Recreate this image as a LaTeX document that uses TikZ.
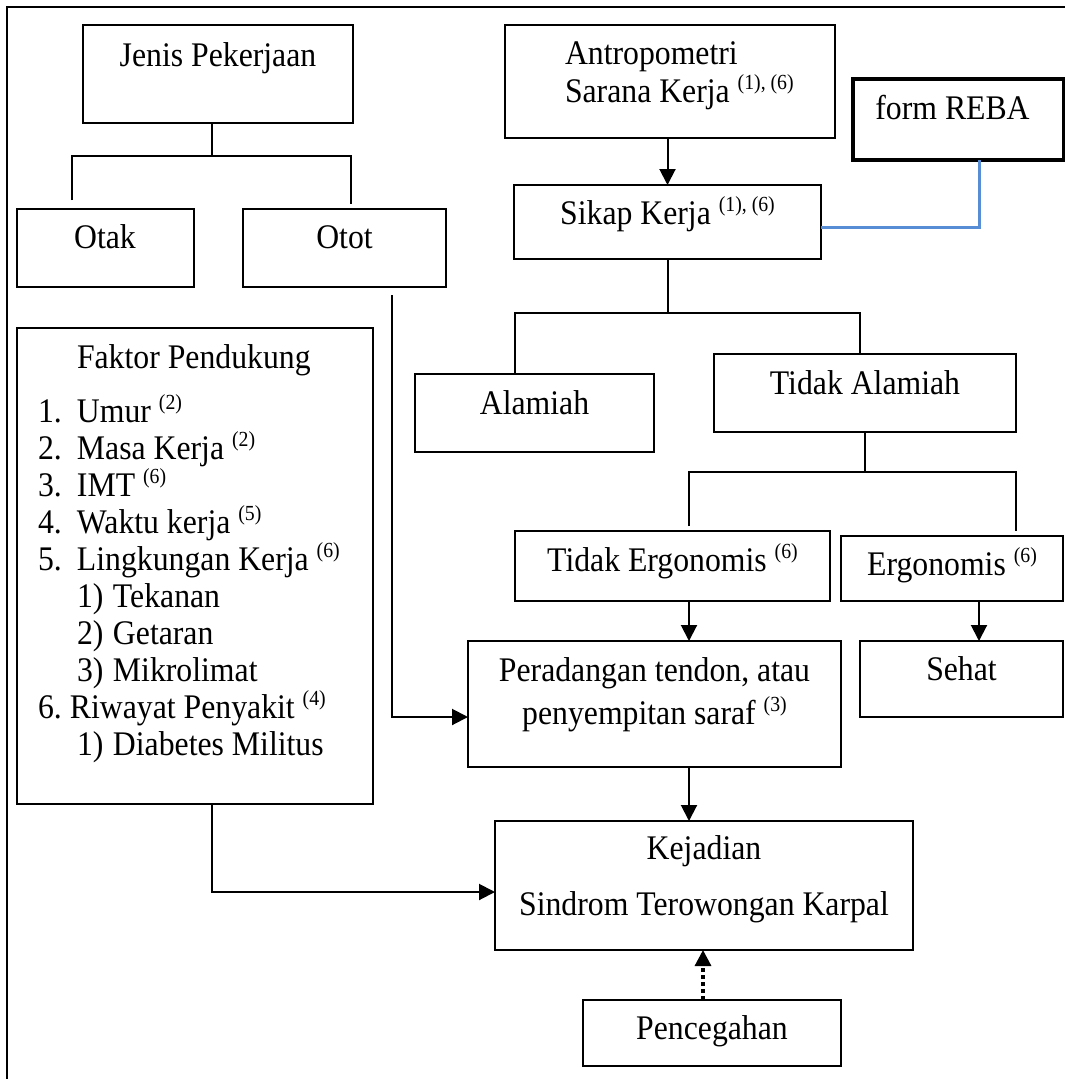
\documentclass[tikz,border=0pt]{standalone}
\usepackage{fontspec}
\setmainfont{Liberation Serif}[FakeStretch=0.92]
\usepackage{tikz}
\usetikzlibrary{calc, arrows.meta, positioning}
\definecolor{rebablue}{RGB}{86,141,212}
\newcommand{\refnote}[1]{\raisebox{13pt}{\fontsize{21.5}{21.5}\selectfont #1}}

\begin{document}
\begin{tikzpicture}[
    x=1pt, y=-1pt,
    box/.style={rectangle, draw=black, line width=2pt, inner sep=0pt, outer sep=0pt, anchor=north, font=\fontsize{34.5}{37}\selectfont},
    conn/.style={draw=black, line width=2pt, -{Triangle[length=16pt, width=16pt]}},
    link/.style={draw=black, line width=2pt},
    rebalink/.style={draw=rebablue, line width=3pt},
    dotconn/.style={draw=black, line width=3.2pt, dash pattern=on 4pt off 3pt, -{Triangle[length=16pt, width=16pt]}}
]
    \useasboundingbox (0, 0) rectangle (1065, 1079);

    % Frame (cut at right and bottom)
    \draw [line width=2.4pt] (7, 1079) -- (7, 7) -- (1065, 7);

    % Left column: job type and supporting factors
    \node (jenis) at (218, 25) [box, minimum width=270pt, text height=41pt, text depth=57pt] {Jenis Pekerjaan};
    \node (otak) at (105, 209) [box, minimum width=177pt, text height=39pt, text depth=39pt] {Otak};
    \node (otot) at (344.5, 209) [box, minimum width=203pt, text height=39pt, text depth=39pt] {Otot};
    \node (faktor) at (195, 328) [box, text width=356pt, align=flush left, text height=40pt, text depth=436pt] {\hspace*{60pt}Faktor Pendukung\\[17pt]
        \hspace*{21pt}\makebox[39pt][l]{1.}Umur \refnote{(2)}\\
        \hspace*{21pt}\makebox[39pt][l]{2.}Masa Kerja \refnote{(2)}\\
        \hspace*{21pt}\makebox[39pt][l]{3.}IMT \refnote{(6)}\\
        \hspace*{21pt}\makebox[39pt][l]{4.}Waktu kerja \refnote{(5)}\\
        \hspace*{21pt}\makebox[39pt][l]{5.}Lingkungan Kerja \refnote{(6)}\\
        \hspace*{60pt}\makebox[36pt][l]{1)}Tekanan\\
        \hspace*{60pt}\makebox[36pt][l]{2)}Getaran\\
        \hspace*{60pt}\makebox[36pt][l]{3)}Mikrolimat\\
        \hspace*{21pt}\makebox[32pt][l]{6.}Riwayat Penyakit \refnote{(4)}\\
        \hspace*{60pt}\makebox[36pt][l]{1)}Diabetes Militus};

    % Right column: posture branch
    \node (antro) at (670, 25) [box, text width=330pt, align=flush left, text height=39pt, text depth=74pt] {\hspace*{60pt}Antropometri\\[1pt]\hspace*{60pt}Sarana Kerja \refnote{(1), (6)}};
    \node (reba) at (958.5, 79) [box, line width=3.6pt, minimum width=211pt, text height=40pt, text depth=41pt] {form REBA\hspace*{12pt}};
    \node (sikap) at (667.5, 185) [box, minimum width=307pt, text height=39pt, text depth=35pt] {Sikap Kerja \refnote{(1), (6)}};
    \node (alamiah) at (534.5, 374) [box, minimum width=239pt, text height=40pt, text depth=38pt] {Alamiah};
    \node (tidakalamiah) at (865, 354) [box, minimum width=302pt, text height=40pt, text depth=38pt] {Tidak Alamiah};
    \node (tidakergo) at (672.5, 531) [box, minimum width=315pt, text height=40pt, text depth=30pt] {Tidak Ergonomis \refnote{(6)}};
    \node (ergo) at (952, 536) [box, minimum width=222pt, text height=39pt, text depth=26pt] {Ergonomis \refnote{(6)}};
    \node (peradangan) at (654.5, 641) [box, text width=373pt, align=flush center, text height=40pt, text depth=86pt] {Peradangan tendon, atau\\[6pt]penyempitan saraf \refnote{(3)}};
    \node (sehat) at (961.5, 641) [box, minimum width=203pt, text height=39pt, text depth=37pt] {Sehat};

    % Bottom: outcome and prevention
    \node (kejadian) at (704, 821) [box, text width=418pt, align=flush center, text height=38pt, text depth=91pt] {Kejadian\\[19pt]Sindrom Terowongan Karpal};
    \node (pencegahan) at (712, 1000) [box, minimum width=258pt, text height=39pt, text depth=27pt] {Pencegahan};

    % Job type tree
    \draw [link] ($(jenis.south)+(-6,0)$) -- ++(0, 33) coordinate (jenisJ);
    \draw [link] ($(otak.north)+(-33,-9)$) |- ($(otot.north |- jenisJ)+(6.5,0)$) -- ($(otot.north)+(6.5,-5)$);
    \coordinate (ototOut) at (392, 295);
    \draw [conn] (ototOut) |- ($(peradangan.west)+(0,13)$);

    % Posture tree
    \draw [conn] (antro.south -| sikap.north) -- (sikap.north);
    \draw [rebalink] ($(sikap.east)+(0,5)$) -| ($(reba.south)+(20.5,0)$);
    \draw [link] (sikap.south) -- ++(0, 54) coordinate (sikapJ);
    \draw [link] ($(alamiah.north)+(-19.5,0)$) |- ($(tidakalamiah.north |- sikapJ)+(-5,0)$) -- ($(tidakalamiah.north)+(-5,0)$);
    \draw [link] (tidakalamiah.south) -- ++(0, 40) coordinate (tidakJ);
    \draw [link] ($(tidakergo.north)+(16.5,-5)$) |- ($(ergo.north |- tidakJ)+(64,0)$) -- ($(ergo.north)+(64,-5)$);

    % Consequences
    \draw [conn] ($(tidakergo.south)+(16.5,0)$) -- ($(tidakergo.south |- peradangan.north)+(16.5,0)$);
    \draw [conn] ($(ergo.south)+(27,0)$) -- ($(ergo.south |- sehat.north)+(27,0)$);
    \draw [conn] ($(peradangan.south)+(34.5,0)$) -- ($(peradangan.south |- kejadian.north)+(34.5,0)$);
    \draw [conn] ($(faktor.south)+(17,0)$) |- ($(kejadian.west)+(0,6.5)$);
    \draw [dotconn] ($(pencegahan.north)+(-9,0)$) -- ($(pencegahan.north |- kejadian.south)+(-9,0)$);

\end{tikzpicture}
\end{document}
